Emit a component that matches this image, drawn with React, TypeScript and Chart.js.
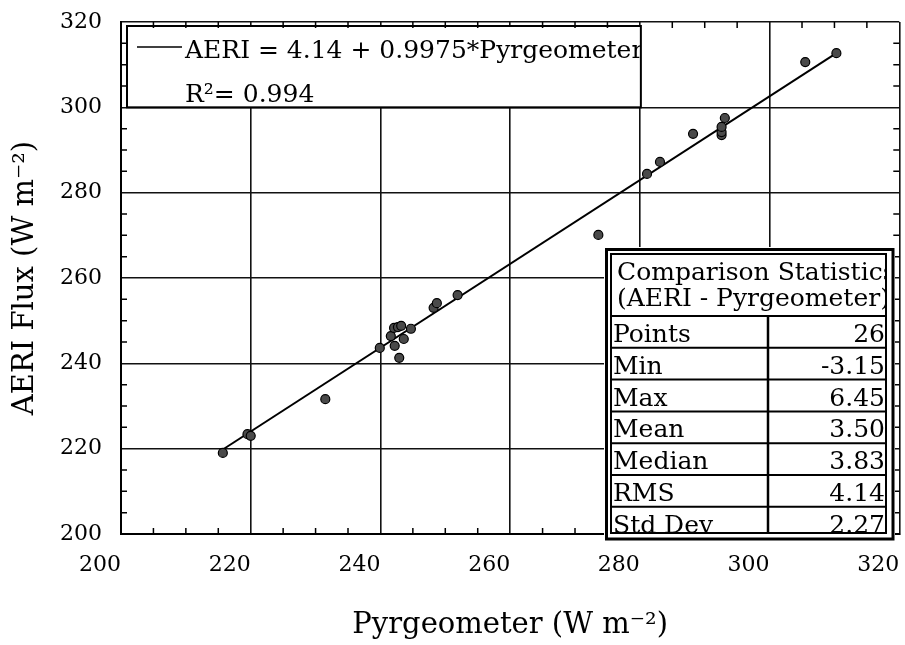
import React, { useEffect, useRef } from 'react';
import { Chart, registerables } from 'chart.js';

Chart.register(...registerables);

// ---- data ----
const pyrgeometer = [215.7, 219.5, 220.0, 231.5, 239.9, 241.6, 242.2, 242.9, 242.1, 242.7, 243.2, 243.6, 244.7, 248.2, 248.7, 251.9, 273.6, 281.1, 283.1, 288.2, 292.6, 292.6, 292.6, 293.1, 305.5, 310.3];
const aeri = [219.0, 223.4, 223.0, 231.6, 243.6, 246.4, 244.1, 241.3, 248.3, 248.5, 248.8, 245.7, 248.1, 253.0, 254.1, 256.0, 270.1, 284.4, 287.2, 293.8, 293.5, 294.2, 295.4, 297.5, 310.6, 312.7];
const fitX = [215.7, 310.3];
const fitY = [219.8, 312.7];
const axisMin = 200;
const axisMax = 320;
const axisStep = 20;
const minorTicks = [205, 210, 215, 225, 230, 235, 245, 250, 255, 265, 270, 275, 285, 290, 295, 305, 310, 315];
const legendLines = ['AERI = 4.14 + 0.9975*Pyrgeometer', 'R\u00B2= 0.994'];
const statsTitle = ['Comparison Statistics', '(AERI - Pyrgeometer)'];
const statsLabels = ['Points', 'Min', 'Max', 'Mean', 'Median', 'RMS', 'Std Dev'];
const statsValues = ['26', '-3.15', '6.45', '3.50', '3.83', '4.14', '2.27'];
const xTitle = 'Pyrgeometer (W m\u207B\u00B2)';
const yTitle = 'AERI Flux (W m\u207B\u00B2)';

const FONT = '"DejaVu Serif", "Liberation Serif", serif';
const INK = '#000';

const overlayPlugin = {
  id: 'overlay',
  afterDraw(chart: any) {
    const ctx = chart.ctx as CanvasRenderingContext2D;
    const { left, top, right, bottom } = chart.chartArea;
    const xs = chart.scales.x;
    const ys = chart.scales.y;
    ctx.save();

    // legend box
    const bx0 = left + 6;
    const by0 = top + 4;
    const bx1 = xs.getPixelForValue(280) + 1;
    const by1 = ys.getPixelForValue(300);
    ctx.fillStyle = '#fff';
    ctx.fillRect(bx0, by0, bx1 - bx0, by1 - by0);
    ctx.strokeStyle = INK;
    ctx.lineWidth = 2;
    ctx.strokeRect(bx0, by0, bx1 - bx0, by1 - by0);
    ctx.lineWidth = 1.6;
    ctx.beginPath();
    ctx.moveTo(left + 16, top + 25);
    ctx.lineTo(left + 61, top + 25);
    ctx.stroke();
    ctx.save();
    ctx.beginPath();
    ctx.rect(bx0 + 1, by0 + 1, bx1 - bx0 - 2, by1 - by0 - 2);
    ctx.clip();
    ctx.fillStyle = INK;
    ctx.font = `25px ${FONT}`;
    ctx.textBaseline = 'alphabetic';
    ctx.textAlign = 'left';
    ctx.fillText(legendLines[0], left + 64, top + 36);
    ctx.fillText(legendLines[1], left + 64, top + 80);
    ctx.restore();

    // minor ticks (inward, all four sides)
    ctx.strokeStyle = INK;
    ctx.lineWidth = 1.5;
    ctx.beginPath();
    for (const v of minorTicks) {
      const px = xs.getPixelForValue(v);
      ctx.moveTo(px, bottom);
      ctx.lineTo(px, bottom - 6);
      ctx.moveTo(px, top);
      ctx.lineTo(px, top + 6);
      const py = ys.getPixelForValue(v);
      ctx.moveTo(left, py);
      ctx.lineTo(left + 6, py);
      ctx.moveTo(right, py);
      ctx.lineTo(right - 6, py);
    }
    ctx.stroke();

    // statistics table
    const oL = 604, oT = 247, oR = 895, oB = 541;
    ctx.fillStyle = '#fff';
    ctx.fillRect(oL, oT, oR - oL, oB - oT);
    ctx.strokeStyle = INK;
    ctx.lineWidth = 3;
    ctx.strokeRect(606.5, 249.5, 893 - 606.5, 539 - 249.5);
    const iL = 611, iT = 254, iR = 886, iB = 533;
    ctx.lineWidth = 2;
    ctx.strokeRect(iL, iT, iR - iL, iB - iT);
    const rowTops = statsLabels.map((_, i) => 316 + i * 31.8);
    ctx.beginPath();
    for (const yy of rowTops) {
      ctx.moveTo(iL, yy);
      ctx.lineTo(iR, yy);
    }
    ctx.stroke();
    ctx.lineWidth = 2.5;
    ctx.beginPath();
    ctx.moveTo(768, 316);
    ctx.lineTo(768, iB);
    ctx.stroke();

    ctx.save();
    ctx.beginPath();
    ctx.rect(iL + 1, iT + 1, iR - iL - 2, iB - iT - 2);
    ctx.clip();
    ctx.fillStyle = INK;
    ctx.font = `25px ${FONT}`;
    ctx.textAlign = 'left';
    ctx.fillText(statsTitle[0], 617, 280);
    ctx.fillText(statsTitle[1], 617, 306);
    statsLabels.forEach((lab, i) => {
      ctx.textAlign = 'left';
      ctx.fillText(lab, 613, rowTops[i] + 26);
      ctx.textAlign = 'right';
      ctx.fillText(statsValues[i], 885, rowTops[i] + 26);
    });
    ctx.restore();

    ctx.restore();
  },
};

export default function App() {
  const ref = useRef<HTMLCanvasElement | null>(null);

  useEffect(() => {
    if (!ref.current) return;
    const points = pyrgeometer.map((x, i) => ({ x, y: aeri[i] }));
    const fit = fitX.map((x, i) => ({ x, y: fitY[i] }));
    const chart = new Chart(ref.current, {
      type: 'scatter',
      data: {
        datasets: [
          {
            label: 'data',
            data: points,
            pointRadius: 4.5,
            pointBackgroundColor: '#4a4a4a',
            pointBorderColor: '#000',
            pointBorderWidth: 1.2,
            order: 1,
          },
          {
            label: 'fit',
            data: fit,
            showLine: true,
            pointRadius: 0,
            borderColor: INK,
            borderWidth: 2,
            order: 2,
          } as any,
        ],
      },
      options: {
        animation: false,
        responsive: false,
        devicePixelRatio: 1,
        layout: { padding: { left: 0, top: 22, right: 4, bottom: 0 } },
        plugins: {
          legend: { display: false },
          tooltip: { enabled: false },
        },
        scales: {
          x: {
            type: 'linear',
            min: axisMin,
            max: axisMax,
            ticks: {
              stepSize: axisStep,
              font: { family: FONT, size: 22 },
              color: INK,
              padding: 18,
              labelOffset: -21,
              maxRotation: 0,
              autoSkip: false,
            },
            grid: { color: '#111', lineWidth: 1.6, drawTicks: false },
            border: { color: INK, width: 2 },
            title: {
              display: true,
              text: xTitle,
              font: { family: FONT, size: 29 },
              color: INK,
              padding: { top: 0, bottom: 2 },
            },
            afterFit: (s: any) => {
              s.height = 111;
              s.paddingLeft = 0;
              s.paddingRight = 0;
            },
          },
          y: {
            type: 'linear',
            min: axisMin,
            max: axisMax,
            ticks: {
              stepSize: axisStep,
              font: { family: FONT, size: 22 },
              color: INK,
              padding: 19,
            },
            grid: { color: '#111', lineWidth: 1.6, drawTicks: false },
            border: { color: INK, width: 2 },
            title: {
              display: true,
              text: yTitle,
              font: { family: FONT, size: 29 },
              color: INK,
              padding: { top: 8, bottom: 0 },
            },
            afterFit: (s: any) => {
              s.width = 121;
              s.paddingTop = 0;
              s.paddingBottom = 0;
            },
          },
        },
      },
      plugins: [overlayPlugin],
    });
    return () => chart.destroy();
  }, []);

  return (
    <div style={{ position: 'fixed', left: 0, top: 0, width: 905, height: 645, background: '#fff' }}>
      <canvas ref={ref} width={905} height={645} style={{ display: 'block' }} />
    </div>
  );
}
